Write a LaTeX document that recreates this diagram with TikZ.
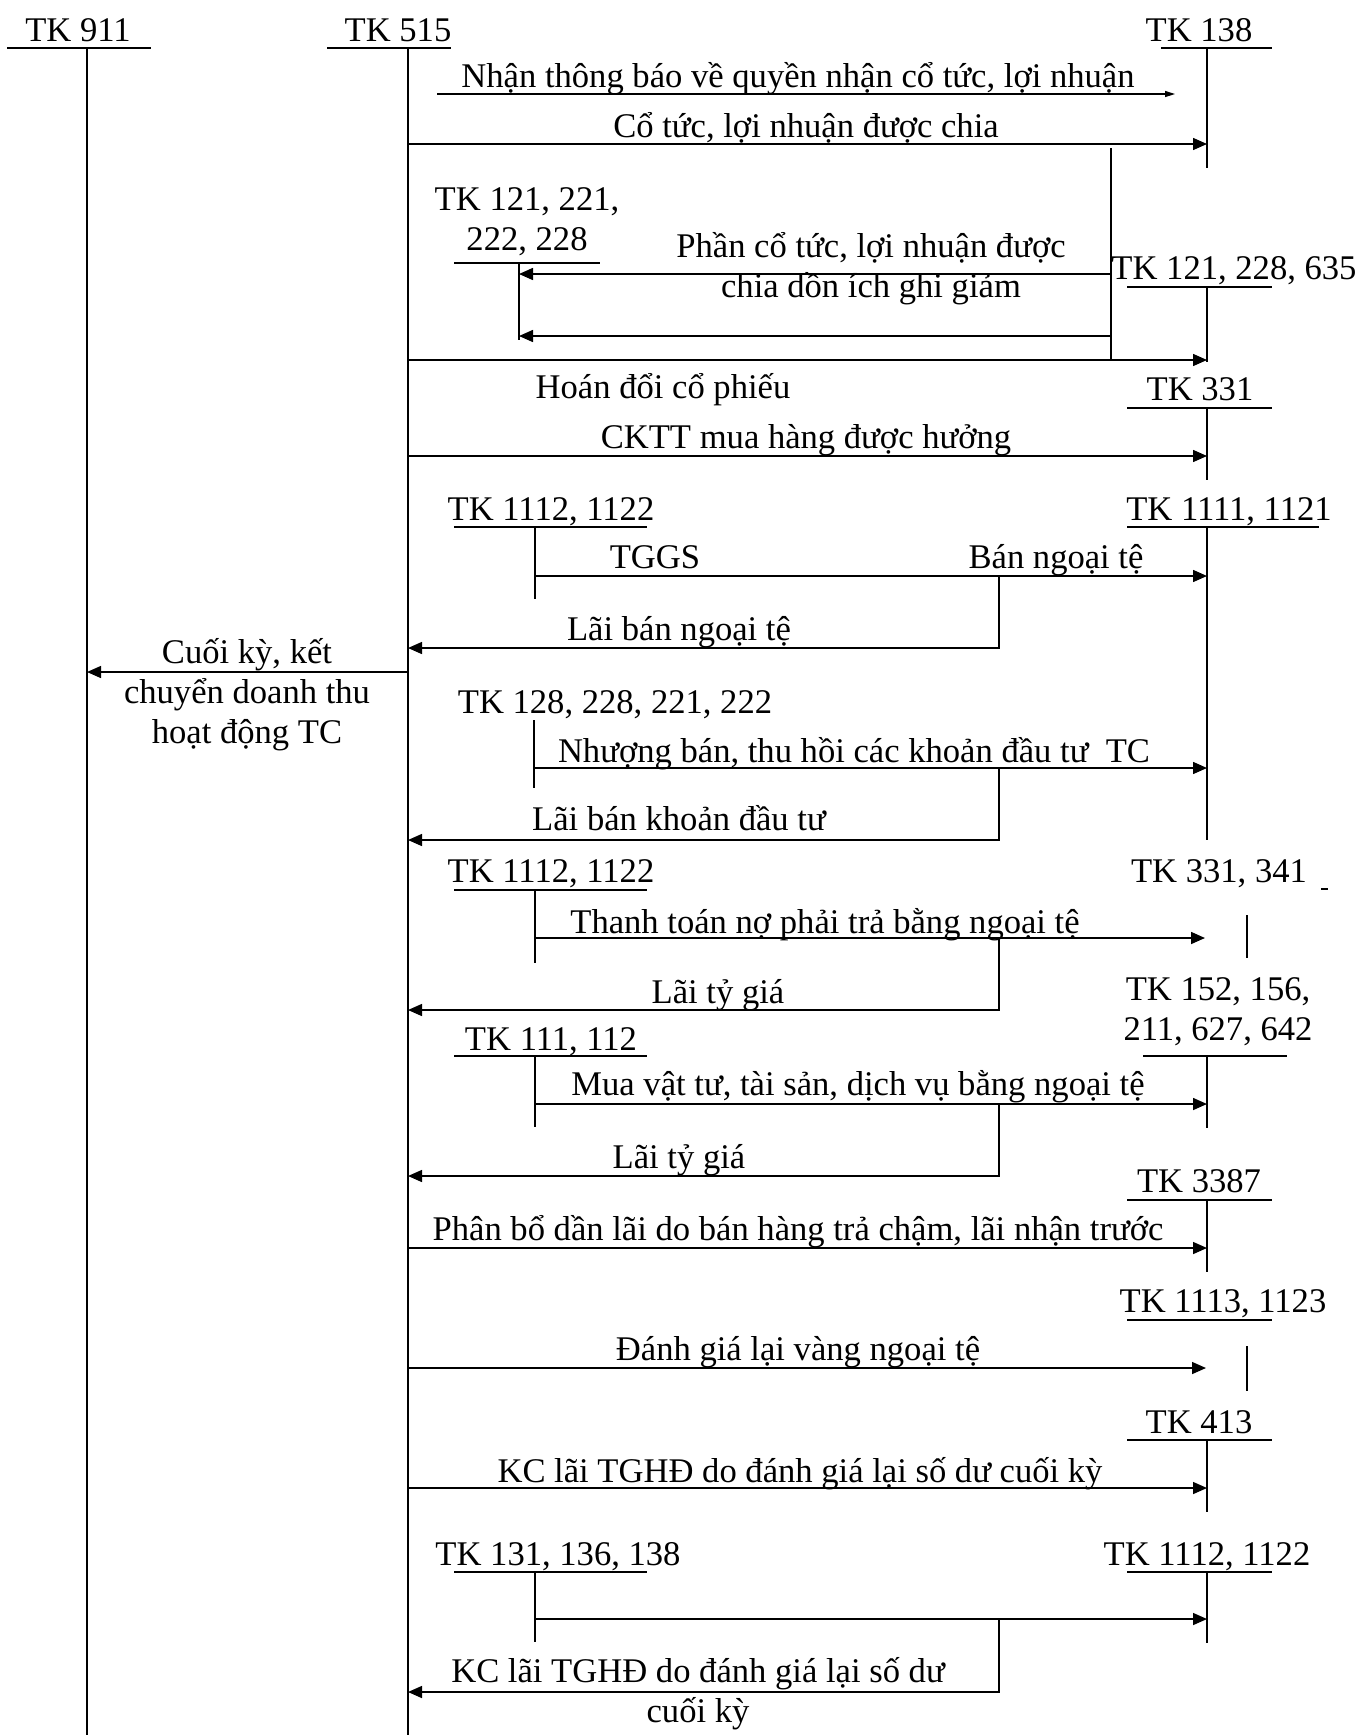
\documentclass[tikz,border=0pt]{standalone}
\usepackage{fontspec}
\setmainfont{Liberation Serif}
\usetikzlibrary{arrows.meta}

\tikzset{
  txt/.style={inner sep=0pt, anchor=base, align=center,
    font=\fontsize{17.3}{20}\selectfont},
  arr/.style={-{Triangle[length=7pt,width=6pt]}},
  arrs/.style={-{Triangle[length=5pt,width=3pt]}},
}

\begin{document}
\begin{tikzpicture}[x=0.5pt, y=-0.5pt, line width=0.75pt]
\useasboundingbox (0,0) rectangle (1361,1735);

% columns
\coordinate (c911) at (87,0);
\coordinate (c515) at (408,0);
\coordinate (cR) at (1207,0);
\coordinate (cL) at (535,0);
\coordinate (cL1) at (519,0);
\coordinate (cJ) at (999,0);
\coordinate (cJ1) at (1111,0);
\coordinate (n1a) at (437,94);
\coordinate (n1b) at (1175,94);
\coordinate (n12) at (1205,938);
\coordinate (n17) at (1206,1368);

% rows
\coordinate (r2) at (0,144);
\coordinate (r2a) at (0,148);
\coordinate (r3) at (0,274);
\coordinate (r4) at (0,336);
\coordinate (r5) at (0,360);
\coordinate (r6) at (0,456);
\coordinate (r7) at (0,576);
\coordinate (r8) at (0,648);
\coordinate (r9) at (0,672);
\coordinate (r10) at (0,768);
\coordinate (r11) at (0,840);
\coordinate (r12) at (0,938);
\coordinate (r13) at (0,1010);
\coordinate (r14) at (0,1104);
\coordinate (r15) at (0,1176);
\coordinate (r16) at (0,1248);
\coordinate (r17) at (0,1368);
\coordinate (r18) at (0,1488);
\coordinate (r19) at (0,1619);
\coordinate (r20) at (0,1692);

% accounts
\node[txt] (tk911) at (78,41) {TK 911};
\draw (7,48) -- (151,48) (87,48) -- (87,1735);
\node[txt] (tk515) at (398,41) {TK 515};
\draw (327,48) -- (451,48) (408,48) -- (408,1735);
\node[txt] (tk138) at (1199,41) {TK 138};
\draw (1161,48) -- (1272,48) (1207,48) -- (1207,168);
\node[txt] (tk121a) at (527,250) {TK 121, 221,\\222, 228};
\draw (454,263) -- (600,263) (519,263) -- (519,340);
\node[txt] (tk121b) at (1234,279) {TK 121, 228, 635};
\draw (1127,287) -- (1272,287) (1207,287) -- (1207,362);
\node[txt] (tk331) at (1200,400) {TK 331};
\draw (1127,408) -- (1272,408) (1207,408) -- (1207,480);
\node[txt] (tk1112a) at (551,520) {TK 1112, 1122};
\draw (454,527) -- (647,527) (535,527) -- (535,599);
\node[txt] (tk1111) at (1229,520) {TK 1111, 1121};
\draw (1127,527) -- (1319,527) (1207,527) -- (1207,840);
\node[txt] (tk128) at (615,713) {TK 128, 228, 221, 222};
\draw (534,720) -- (534,788);
\node[txt] (tk1112b) at (551,882) {TK 1112, 1122};
\draw (454,890) -- (647,890) (535,890) -- (535,963);
\node[txt] (tk331b) at (1219,882) {TK 331, 341};
\draw (1321,889) -- (1328,889) (1247,915) -- (1247,958);
\node[txt] (tk152) at (1218,1040) {TK 152, 156,\\211, 627, 642};
\draw (1143,1056) -- (1287,1056) (1207,1056) -- (1207,1128);
\node[txt] (tk111) at (551,1050) {TK 111, 112};
\draw (454,1056) -- (647,1056) (535,1056) -- (535,1127);
\node[txt] (tk3387) at (1199,1192) {TK 3387};
\draw (1127,1200) -- (1272,1200) (1207,1200) -- (1207,1272);
\node[txt] (tk1113) at (1223,1312) {TK 1113, 1123};
\draw (1127,1320) -- (1272,1320) (1247,1346) -- (1247,1391);
\node[txt] (tk413) at (1199,1433) {TK 413};
\draw (1127,1440) -- (1272,1440) (1207,1440) -- (1207,1512);
\node[txt] (tk131) at (558,1565) {TK 131, 136, 138};
\draw (454,1572) -- (647,1572) (535,1572) -- (535,1642);
\node[txt] (tk1112c) at (1207,1565) {TK 1112, 1122};
\draw (1127,1572) -- (1272,1572) (1207,1572) -- (1207,1643);

% entries
\draw[arrs] (n1a) -- (n1b);
\node[txt] (l1) at (798,87) {Nhận thông báo về quyền nhận cổ tức, lợi nhuận};
\draw[arr] (c515 |- r2) -- (cR |- r2);
\node[txt] (l2) at (806,137) {Cổ tức, lợi nhuận được chia};
\draw (cJ1 |- r2a) -- (cJ1 |- r5);
\draw[arr] (cJ1 |- r3) -- (cL1 |- r3);
\draw[arr] (cJ1 |- r4) -- (cL1 |- r4);
\node[txt] (l3) at (871,297) {Phần cổ tức, lợi nhuận được\\chia dồn ích ghi giảm};
\draw[arr] (c515 |- r5) -- (cR |- r5);
\node[txt] (l4) at (663,398) {Hoán đổi cổ phiếu};
\draw[arr] (c515 |- r6) -- (cR |- r6);
\node[txt] (l5) at (806,448) {CKTT mua hàng được hưởng};
\draw[arr] (cL |- r7) -- (cR |- r7);
\node[txt] (l6) at (655,568) {TGGS};
\node[txt] (l7) at (1056,568) {Bán ngoại tệ};
\draw[arr] (cJ |- r7) -- (cJ |- r8) -- (c515 |- r8);
\node[txt] (l8) at (679,640) {Lãi bán ngoại tệ};
\draw[arr] (c515 |- r9) -- (c911 |- r9);
\node[txt] (l9) at (247,743) {Cuối kỳ, kết\\chuyển doanh thu\\hoạt động TC};
\draw[arr] (cL |- r10) -- (cR |- r10);
\node[txt] (l10) at (854,762) {Nhượng bán, thu hồi các khoản đầu tư~~TC};
\draw[arr] (cJ |- r10) -- (cJ |- r11) -- (c515 |- r11);
\node[txt] (l11) at (679,830) {Lãi bán khoản đầu tư};
\draw[arr] (cL |- r12) -- (n12);
\node[txt] (l12) at (825,933) {Thanh toán nợ phải trả bằng ngoại tệ};
\draw[arr] (cJ |- r12) -- (cJ |- r13) -- (c515 |- r13);
\node[txt] (l13) at (718,1003) {Lãi tỷ giá};
\draw[arr] (cL |- r14) -- (cR |- r14);
\node[txt] (l14) at (858,1095) {Mua vật tư, tài sản, dịch vụ bằng ngoại tệ};
\draw[arr] (cJ |- r14) -- (cJ |- r15) -- (c515 |- r15);
\node[txt] (l15) at (679,1168) {Lãi tỷ giá};
\draw[arr] (c515 |- r16) -- (cR |- r16);
\node[txt] (l16) at (798,1240) {Phân bổ dần lãi do bán hàng trả chậm, lãi nhận trước};
\draw[arr] (c515 |- r17) -- (n17);
\node[txt] (l17) at (798,1360) {Đánh giá lại vàng ngoại tệ};
\draw[arr] (c515 |- r18) -- (cR |- r18);
\node[txt] (l18) at (800,1482) {KC lãi TGHĐ do đánh giá lại số dư cuối kỳ};
\draw[arr] (cL |- r19) -- (cR |- r19);
\draw[arr] (cJ |- r19) -- (cJ |- r20) -- (c515 |- r20);
\node[txt] (l19) at (698,1722) {KC lãi TGHĐ do đánh giá lại số dư\\cuối kỳ};
\end{tikzpicture}
\end{document}
